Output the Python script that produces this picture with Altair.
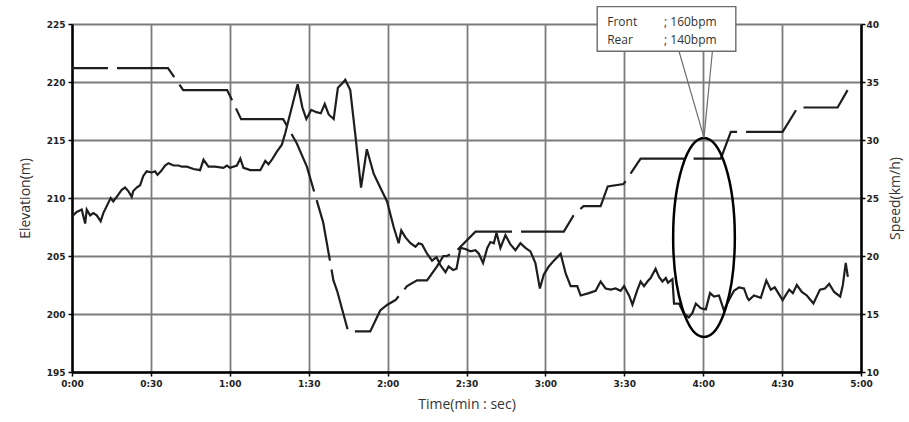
import altair as alt
import pandas as pd

# ---- data ----
# Elevation (dashed line), time in seconds, metres
elev_t = [0, 36.5, 42.3, 59, 64.3, 80.3, 85.5, 89.3, 95.5, 99.4, 100.8, 105, 113.4, 117.2, 119.9,
          123, 127.4, 131.2, 135, 138.8, 141.2, 142.6, 146.4, 153.4, 187, 190.7, 194.5, 201,
          203.7, 209.7, 216.2, 246.7, 250.5, 270.2, 275.9, 291.1, 294.9]
elev_m = [221.2, 221.2, 219.3, 219.3, 216.8, 216.8, 214.7, 212.7, 207.9, 202.9, 202.0, 198.5, 198.5,
          200.3, 200.8, 201.2, 202.4, 202.9, 202.9, 204.1, 205.0, 205.0, 205.5, 207.1, 207.1,
          208.5, 209.3, 209.3, 211.0, 211.2, 213.4, 213.4, 215.7, 215.7, 217.8, 217.8, 219.3]

# Speed (solid line), time in seconds, km/h
spd_t = [0, 1.8, 3.7, 5.0, 5.6, 6.9, 8.1, 9.4, 10.9, 11.9,
         13.2, 14.7, 15.7, 17.0, 18.9, 20.2, 21.4, 22.7, 23.3, 24.6,
         25.9, 27.1, 28.4, 30.3, 31.6, 32.5, 33.8, 35.4, 36.7, 38.6,
         40.5, 41.8, 43.7, 46.2, 48.7, 50.0, 51.9, 54.4, 57.6, 58.9,
         60.1, 62.7, 64.0, 65.2, 67.8, 71.6, 73.5, 74.7, 76.0, 77.9,
         79.8, 81.1, 83.0, 85.8, 87.6, 89.1, 91.0, 92.9, 94.6, 96.1,
         97.6, 99.5, 101.1, 102.8, 103.9, 105.8, 107.7, 109.9, 112.1, 114.7,
         117.2, 119.8, 122.3, 124.2, 125.2, 126.8, 128.7, 130.6, 131.8, 133.1,
         135.0, 136.9, 138.6, 140.1, 142.0, 143.2, 144.9, 146.2, 147.7, 149.6,
         151.5, 153.4, 154.7, 156.3, 157.9, 159.1, 160.4, 161.4, 162.9, 164.8,
         166.7, 168.6, 170.5, 172.4, 174.3, 176.2, 177.9, 179.4, 181.3, 183.2,
         185.8, 187.7, 189.6, 192.1, 193.4, 196.5, 199.1, 201.0, 202.9, 204.8,
         206.7, 208.6, 209.9, 211.8, 213.1, 215.0, 216.2, 217.5, 218.8, 220.0,
         221.9, 223.2, 224.5, 225.8, 226.6, 228.3, 228.9, 230.8, 232.5, 234.5,
         235.9, 237.2, 239.1, 241.0, 242.6, 244.1, 246.0, 247.9, 249.8, 251.7,
         253.6, 255.5, 256.8, 257.4, 259.3, 261.9, 264.0, 265.7, 267.2, 270.2,
         272.7, 274.1, 275.6, 277.5, 279.4, 281.9, 284.4, 286.3, 287.9, 289.8,
         292.1, 293.1, 294.2, 295.0]
spd_v = [23.4, 23.8, 24.0, 22.8, 24.0, 23.5, 23.7, 23.5, 23.0, 23.7,
         24.3, 25.0, 24.7, 25.1, 25.7, 25.9, 25.6, 25.1, 25.6, 25.9,
         26.1, 26.9, 27.3, 27.2, 27.3, 27.0, 27.3, 27.8, 28.0, 27.8,
         27.8, 27.7, 27.7, 27.5, 27.4, 28.3, 27.7, 27.7, 27.6, 27.8,
         27.6, 27.8, 28.4, 27.6, 27.4, 27.4, 28.2, 27.9, 28.3, 29.0,
         29.6, 30.6, 32.3, 34.8, 32.8, 31.8, 32.6, 32.4, 32.3, 33.1,
         32.2, 31.8, 34.5, 34.9, 35.2, 34.3, 30.5, 25.9, 29.2, 27.1,
         25.9, 24.7, 22.5, 21.1, 22.2, 21.6, 21.1, 20.8, 21.1, 21.0,
         20.2, 19.6, 19.9, 19.2, 18.6, 19.1, 18.8, 18.9, 20.7, 20.6,
         20.4, 20.5, 20.2, 19.4, 20.7, 21.2, 21.1, 22.0, 20.7, 21.8,
         21.0, 20.5, 21.1, 20.7, 20.4, 19.4, 17.2, 18.4, 19.1, 19.6,
         20.2, 18.5, 17.4, 17.4, 16.6, 16.8, 17.0, 17.8, 17.2, 17.1,
         17.2, 17.0, 17.4, 16.6, 15.8, 17.1, 17.8, 17.4, 17.8, 18.1,
         18.9, 18.2, 17.8, 18.1, 17.7, 18.0, 15.9, 15.9, 15.1, 14.7,
         15.1, 15.9, 15.5, 15.4, 16.8, 16.5, 16.6, 15.3, 16.2, 17.0,
         17.3, 17.2, 16.4, 16.2, 16.6, 16.4, 17.9, 17.1, 17.3, 16.2,
         17.1, 16.8, 17.5, 16.9, 16.6, 15.9, 17.1, 17.2, 17.6, 16.9,
         16.5, 17.5, 19.4, 18.2]

x_ticks = [0, 30, 60, 90, 120, 150, 180, 210, 240, 270, 300]
elev_ticks = [195, 200, 205, 210, 215, 220, 225]
speed_ticks = [10, 15, 20, 25, 30, 35, 40]

callout_label = ["Front", "Rear"]
callout_value = ["; 160bpm", "; 140bpm"]

# ---- tables ----
elev_df = pd.DataFrame({"t": elev_t, "elev": elev_m})
spd_df = pd.DataFrame({"t": spd_t, "speed": spd_v})

# annotation placement (data coordinates: seconds, metres)
mark_t = 240.3          # the 4:00 highlight
ell_df = pd.DataFrame({"t": [mark_t], "elev": [206.6]})
box_df = pd.DataFrame({"t1": [199.7], "t2": [252.4], "e1": [222.65], "e2": [226.5]})
ptr_df = pd.DataFrame({"t1": [230.8, 243.5], "e1": [222.65, 222.65],
                       "t2": [mark_t, mark_t], "e2": [215.2, 215.2]})
txt_df = pd.DataFrame({
    "t": [203.5, 203.5, 225.1, 225.1],
    "elev": [225.13, 223.66, 225.13, 223.66],
    "txt": callout_label + callout_value,
})

GRID = "#7c7c7c"
INK = "#1e1e1e"
LABEL_FONT = "DejaVu Sans"
TITLE_FONT = "Open Sans"

x_axis = alt.Axis(
    values=x_ticks, title="Time(min : sec)",
    labelExpr="floor(datum.value/60) + ':' + (datum.value % 60 < 10 ? '0' : '') + (datum.value % 60)",
    grid=True, gridColor=GRID, gridWidth=1.8,
    domainColor="black", domainWidth=2.5, tickColor="black", tickWidth=1.5, tickSize=4,
    labelFont=LABEL_FONT, labelFontWeight="bold", labelFontSize=9, labelColor="#222",
    labelPadding=3, labelFlush=False,
    titleFont=TITLE_FONT, titleFontSize=14, titleFontWeight="normal", titleColor="#333",
    titlePadding=9,
)
x_scale = alt.Scale(domain=[0, 300], nice=False)

elev_scale = alt.Scale(domain=[195, 225], nice=False, zero=False)
elev_axis = alt.Axis(
    values=elev_ticks, title="Elevation(m)", orient="left",
    grid=True, gridColor=GRID, gridWidth=1.8,
    domainColor="black", domainWidth=2.5, tickColor="black", tickWidth=1.5, tickSize=4,
    labelFont=LABEL_FONT, labelFontWeight="bold", labelFontSize=9, labelColor="#222",
    labelPadding=3,
    titleFont=TITLE_FONT, titleFontSize=14, titleFontWeight="normal", titleColor="#333",
    titlePadding=14,
)
speed_scale = alt.Scale(domain=[10, 40], nice=False, zero=False)
speed_axis = alt.Axis(
    values=speed_ticks, title="Speed(km/h)", orient="right",
    grid=False,
    domainColor="black", domainWidth=2.5, tickColor="black", tickWidth=1.5, tickSize=4,
    labelFont=LABEL_FONT, labelFontWeight="bold", labelFontSize=9, labelColor="#222",
    labelPadding=1,
    titleFont=TITLE_FONT, titleFontSize=14, titleFontWeight="normal", titleColor="#333",
    titleAngle=270, titleBaseline="bottom", titlePadding=24,
)

X = alt.X("t:Q", scale=x_scale, axis=x_axis)

elev_line = alt.Chart(elev_df).mark_line(
    color=INK, strokeWidth=2.2, strokeDash=[62, 9], strokeDashOffset=26
).encode(x=X, y=alt.Y("elev:Q", scale=elev_scale, axis=elev_axis))

speed_line = alt.Chart(spd_df).mark_line(color=INK, strokeWidth=2.2).encode(
    x=X, y=alt.Y("speed:Q", scale=speed_scale, axis=speed_axis)
)

k = 0.5523
a = 0.31
ell_path = (f"M 0 -1 C {k*a:.4f} -1 {a} -{k} {a} 0 C {a} {k} {k*a:.4f} 1 0 1 "
            f"C -{k*a:.4f} 1 -{a} {k} -{a} 0 C -{a} -{k} -{k*a:.4f} -1 0 -1 Z")
ellipse = alt.Chart(ell_df).mark_point(
    shape=ell_path, size=199 * 199, filled=False, stroke="black", strokeWidth=2.5, opacity=1
).encode(x=X, y=alt.Y("elev:Q", scale=elev_scale, axis=None))

pointers = alt.Chart(ptr_df).mark_rule(color="#6e6e6e", strokeWidth=1.2).encode(
    x=alt.X("t1:Q", scale=x_scale, axis=x_axis), x2="t2:Q",
    y=alt.Y("e1:Q", scale=elev_scale, axis=None), y2="e2:Q",
)

box = alt.Chart(box_df).mark_rect(fill="white", stroke="#6e6e6e", strokeWidth=1.4).encode(
    x=alt.X("t1:Q", scale=x_scale, axis=x_axis), x2="t2:Q",
    y=alt.Y("e1:Q", scale=elev_scale, axis=None), y2="e2:Q",
)

texts = alt.Chart(txt_df).mark_text(
    align="left", baseline="middle", font=TITLE_FONT, fontSize=12, color="#333"
).encode(
    x=X, y=alt.Y("elev:Q", scale=elev_scale, axis=None), text="txt:N"
)

chart = alt.layer(
    elev_line, speed_line, ellipse, pointers, box, texts
).resolve_scale(y="independent").properties(
    width=789, height=348,
    autosize=alt.AutoSizeParams(type="none"),
    padding={"left": 72, "top": 24, "right": 48, "bottom": 50},
    background="white",
).configure_view(stroke=None)

chart.save("out.html", embed_options={"renderer": "svg", "actions": False})
